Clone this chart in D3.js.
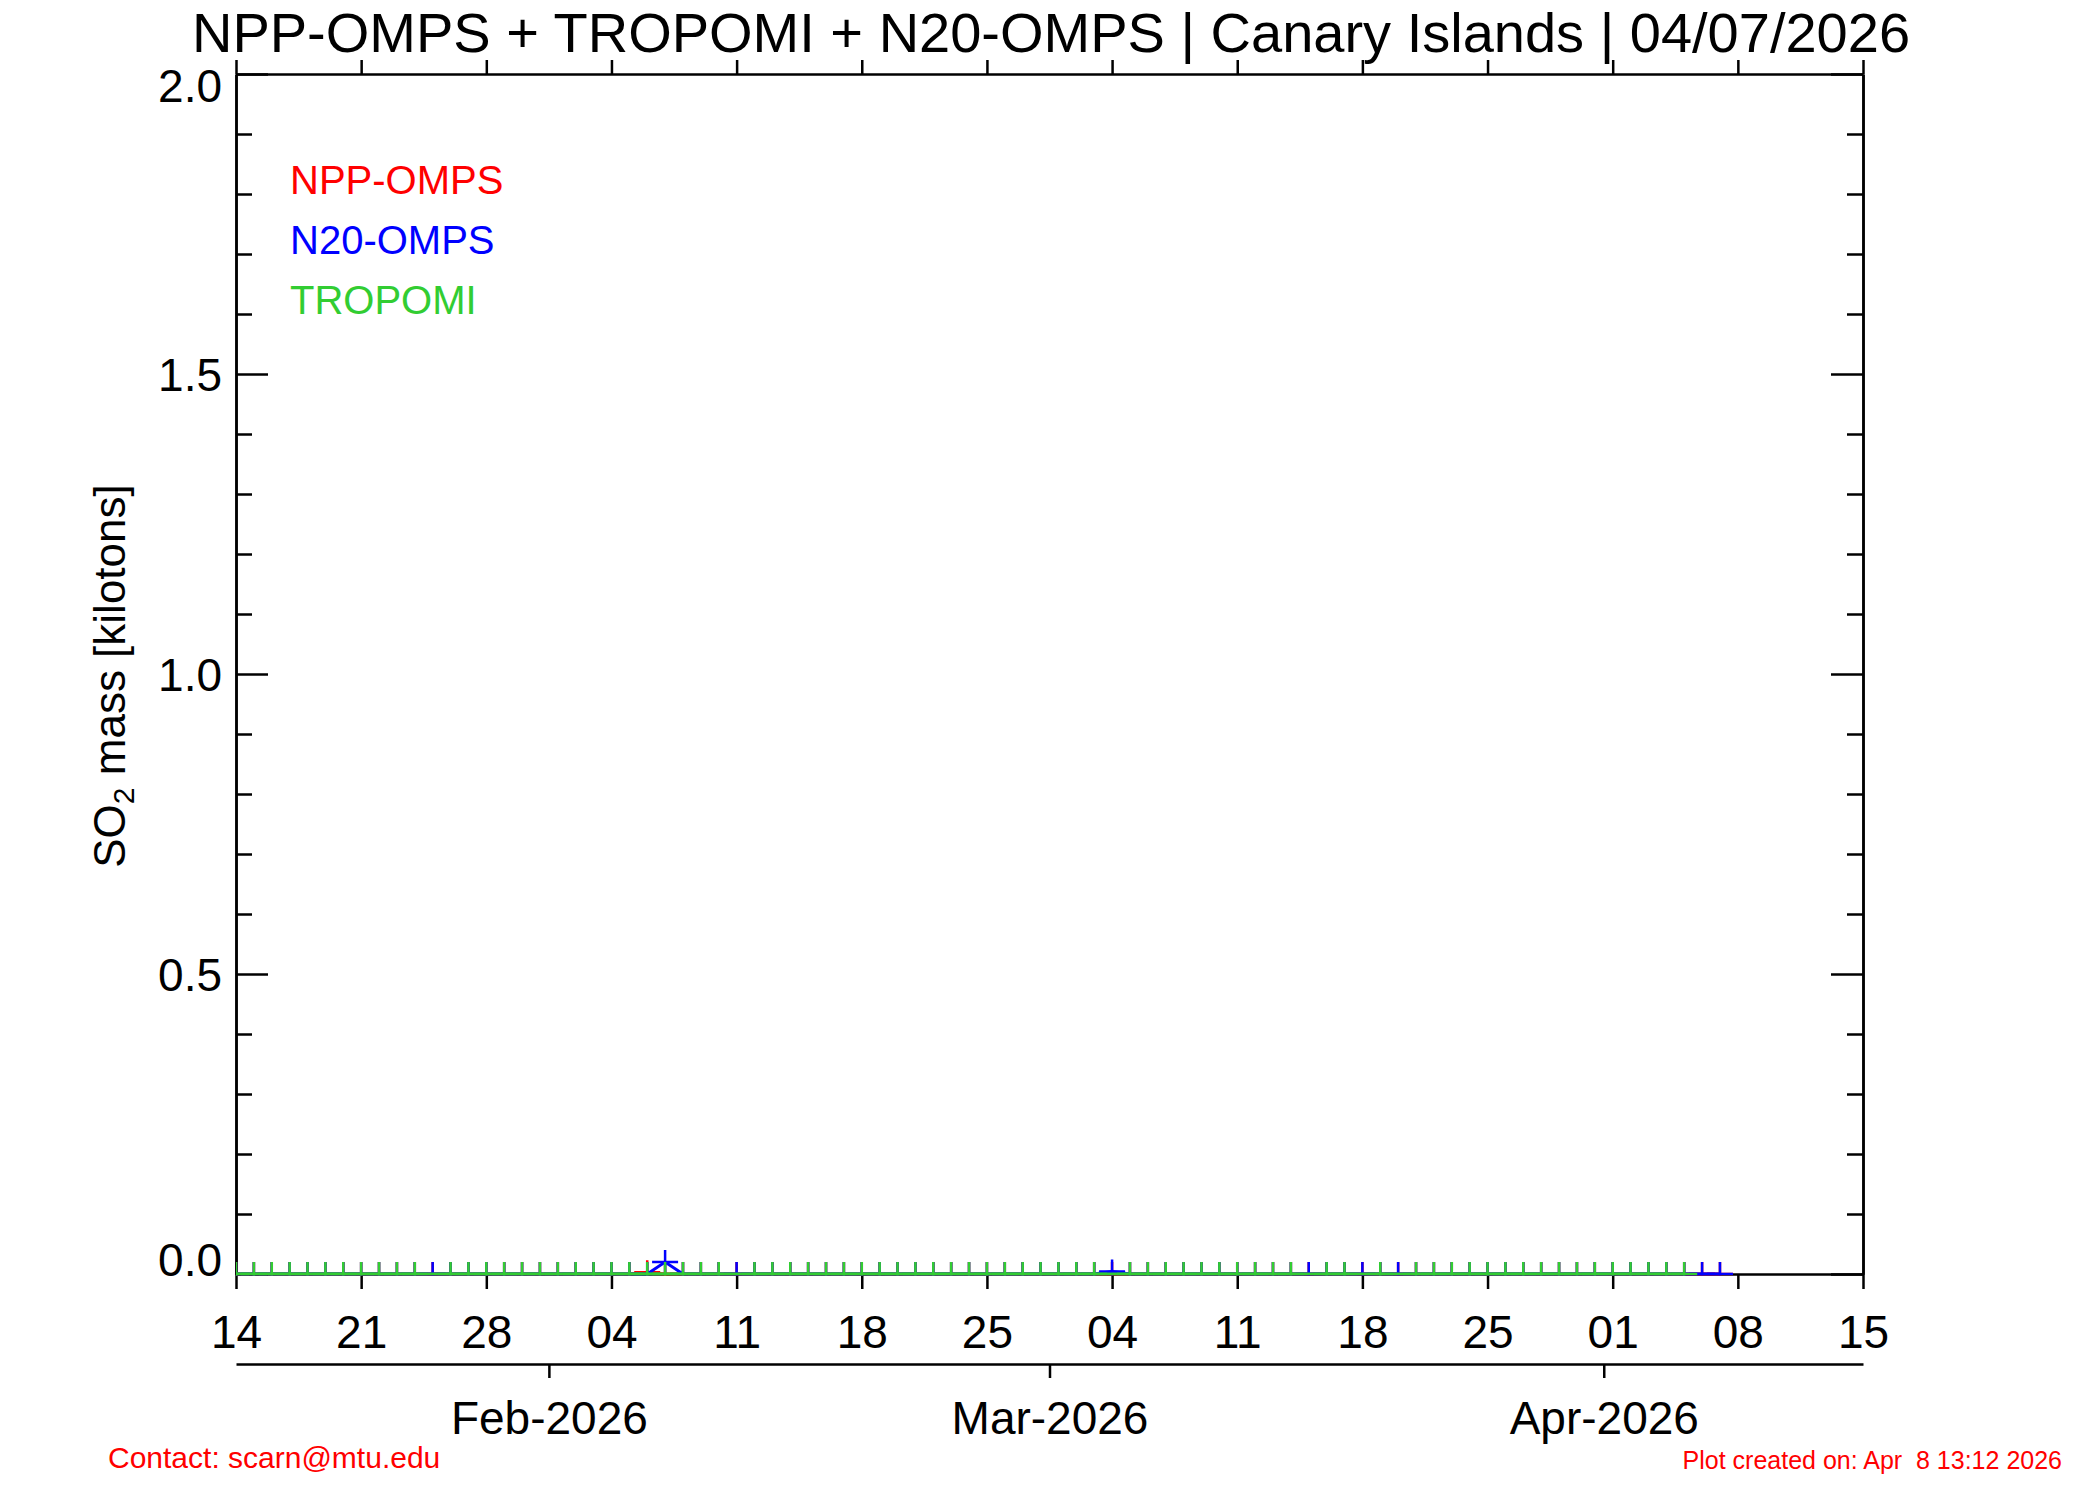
<!DOCTYPE html>
<head>
<meta charset="utf-8">
<script src="https://d3js.org/d3.v7.min.js"></script>
<style>

body {
  margin: 0;
  background: white;
  font-family: 'Liberation Sans', Arial, sans-serif;
}

.axis path, .axis line {
  stroke: black;
  stroke-width: 2.5;
}

.axis text {
  fill: black;
}

.series_line {
  fill: none;
  stroke-width: 3;
}

.marker {
  fill: none;
  stroke-width: 2.5;
}

</style>
</head>

<body>
  <div id="plotContainer"></div>
<script>

// observation days (UTC)
var dates = [
  "2026-01-14","2026-01-15","2026-01-16","2026-01-17","2026-01-18","2026-01-19","2026-01-20",
  "2026-01-21","2026-01-22","2026-01-23","2026-01-24","2026-01-25","2026-01-26","2026-01-27",
  "2026-01-28","2026-01-29","2026-01-30","2026-01-31",
  "2026-02-01","2026-02-02","2026-02-03","2026-02-04","2026-02-05","2026-02-06","2026-02-07",
  "2026-02-08","2026-02-09","2026-02-10","2026-02-11","2026-02-12","2026-02-13","2026-02-14",
  "2026-02-15","2026-02-16","2026-02-17","2026-02-18","2026-02-19","2026-02-20","2026-02-21",
  "2026-02-22","2026-02-23","2026-02-24","2026-02-25","2026-02-26","2026-02-27","2026-02-28",
  "2026-03-01","2026-03-02","2026-03-03","2026-03-04","2026-03-05","2026-03-06","2026-03-07",
  "2026-03-08","2026-03-09","2026-03-10","2026-03-11","2026-03-12","2026-03-13","2026-03-14",
  "2026-03-15","2026-03-16","2026-03-17","2026-03-18","2026-03-19","2026-03-20","2026-03-21",
  "2026-03-22","2026-03-23","2026-03-24","2026-03-25","2026-03-26","2026-03-27","2026-03-28",
  "2026-03-29","2026-03-30","2026-03-31",
  "2026-04-01","2026-04-02","2026-04-03","2026-04-04","2026-04-05","2026-04-06","2026-04-07"
];

// SO2 mass, kilotons (null = no retrieval that day)
var npp_omps = [
  0,0,0,0,0,0,0, 0,0,0,0,0,0,0, 0,0,0,0,
  0,0,0,0,0,0.003,0, 0,0,0,0,0,0,0, 0,0,0,0,0,0,0, 0,0,0,0,0,0,0,
  0,0,0,0,0,0,0, 0,0,0,0,0,0,0, 0,0,0,0,0,0,0, 0,0,0,0,0,0,0, 0,0,0,
  0,0,0,0,0,0,0
];

var n20_omps = [
  0,0,0,0,0,0,0, 0,0,0,0,0,0,0, 0,0,0,0,
  0,0,0,0,0,0,0.02, 0,0,0,0,0,0,0, 0,0,0,0,0,0,0, 0,0,0,0,0,0,0,
  0,0,0,0.004,0,0,0, 0,0,0,0,0,0,0, 0,0,0,0,0,0,0, 0,0,0,0,0,0,0, 0,0,0,
  0,0,0,0,0,0,0
];

var tropomi = [
  0,0,0,0,0,0,0, 0,0,0,0,null,0,0, 0,0,0,0,
  0,0,0,0,0,0,0, 0,0,0,null,0,0,0, 0,0,0,0,0,0,0, 0,0,0,0,0,0,0,
  0,0,0,null,0,0,0, 0,0,0,0,0,0,0, null,0,0,null,0,null,0, 0,0,0,0,0,0,0, 0,0,0,
  0,0,0,0,0,null,null
];

var series_names = ["NPP-OMPS", "N20-OMPS", "TROPOMI"];
var series_colors = ["#ff0000", "#0000ff", "#32cd32"];

var week_ticks = ["2026-01-14","2026-01-21","2026-01-28","2026-02-04","2026-02-11","2026-02-18","2026-02-25",
                  "2026-03-04","2026-03-11","2026-03-18","2026-03-25","2026-04-01","2026-04-08","2026-04-15"];
var week_labels = ["14","21","28","04","11","18","25","04","11","18","25","01","08","15"];

var month_ticks = ["2026-01-31T12:00Z","2026-02-28T12:00Z","2026-03-31T12:00Z"];
var month_labels = ["Feb-2026","Mar-2026","Apr-2026"];

var y_major = [0, 0.5, 1.0, 1.5, 2.0];
var y_minor = [0.1, 0.2, 0.3, 0.4, 0.6, 0.7, 0.8, 0.9, 1.1, 1.2, 1.3, 1.4, 1.6, 1.7, 1.8, 1.9];

var plot = {left: 236, right: 1863, top: 74, bottom: 1274};

var svg = d3.select("#plotContainer")
    .append("svg")
    .attr("width", 2100)
    .attr("height", 1500)
    .attr("font-family", "'Liberation Sans', Arial, sans-serif");

var x = d3.scaleUtc()
    .domain([new Date("2026-01-14"), new Date("2026-04-15")])
    .range([plot.left, plot.right]);

var y = d3.scaleLinear()
    .domain([0, 2])
    .range([plot.bottom, plot.top]);

// d3 axis sets its own font attrs, so this runs after the axis call
function axisStyle(g) {
  g.attr("class", "axis")
   .attr("font-family", "'Liberation Sans', Arial, sans-serif")
   .attr("font-size", 46);
}

// bottom axis with day labels
var gx = svg.append("g")
    .attr("transform", "translate(0," + plot.bottom + ")")
    .call(d3.axisBottom(x)
        .tickValues(week_ticks.map(function(d) { return new Date(d); }))
        .tickSize(15)
        .tickSizeOuter(0)
        .tickFormat(function(d, i) { return week_labels[i]; }))
    .call(axisStyle);
gx.selectAll("text").attr("y", 74).attr("dy", null);

// top axis, ticks only
svg.append("g")
    .attr("transform", "translate(0," + plot.top + ")")
    .call(d3.axisTop(x)
        .tickValues(week_ticks.map(function(d) { return new Date(d); }))
        .tickSize(14)
        .tickSizeOuter(0)
        .tickFormat(""))
    .call(axisStyle);

// month axis below
var gm = svg.append("g")
    .attr("transform", "translate(0,1364)")
    .call(d3.axisBottom(x)
        .tickValues(month_ticks.map(function(d) { return new Date(d); }))
        .tickSize(14)
        .tickSizeOuter(0)
        .tickFormat(function(d, i) { return month_labels[i]; }))
    .call(axisStyle);
gm.selectAll("text").attr("y", 70).attr("dy", null);

// left axis
var gy = svg.append("g")
    .attr("transform", "translate(" + plot.left + ",0)")
    .call(d3.axisLeft(y)
        .tickValues(y_major)
        .tickSize(-32)
        .tickSizeOuter(0)
        .tickPadding(14)
        .tickFormat(d3.format(".1f")))
    .call(axisStyle);
gy.selectAll("text")
    .attr("dy", null)
    .attr("y", function(d) { return d == 0 ? 1.5 : (d == 2 ? 27 : 16.5); });

svg.append("g")
    .attr("transform", "translate(" + plot.left + ",0)")
    .call(d3.axisLeft(y).tickValues(y_minor).tickSize(-16).tickSizeOuter(0).tickFormat(""))
    .call(axisStyle);

// right axis
svg.append("g")
    .attr("transform", "translate(" + plot.right + ",0)")
    .call(d3.axisRight(y).tickValues(y_major).tickSize(-32).tickSizeOuter(0).tickFormat(""))
    .call(axisStyle);

svg.append("g")
    .attr("transform", "translate(" + plot.right + ",0)")
    .call(d3.axisRight(y).tickValues(y_minor).tickSize(-16).tickSizeOuter(0).tickFormat(""))
    .call(axisStyle);

// data
svg.append("clipPath")
    .attr("id", "plotClip")
  .append("rect")
    .attr("x", plot.left)
    .attr("y", plot.top)
    .attr("width", plot.right - plot.left)
    .attr("height", plot.bottom - plot.top + 1.5);

var plot_content = svg.append("g")
    .attr("clip-path", "url(#plotClip)")
    .attr("id", "plot_content");

var all_series = [npp_omps, n20_omps, tropomi];

all_series.forEach(function(values, s) {

  var pts = dates.map(function(d, i) { return {date: new Date(d), value: values[i]}; });

  var series_line = d3.line()
      .x(function(d) { return x(d.date); })
      .y(function(d) { return y(d.value); });

  var kept = pts.filter(function(d) { return d.value != null; });

  plot_content.append("path")
      .datum(kept)
      .attr("class", "series_line")
      .attr("stroke", series_colors[s])
      .attr("d", series_line);

  plot_content.selectAll(".marker_" + s)
      .data(kept)
      .enter()
      .append("path")
      .attr("class", "marker marker_" + s)
      .attr("stroke", series_colors[s])
      .attr("transform", function(d) { return "translate(" + x(d.date) + "," + y(d.value) + ")"; })
      .attr("d", "M-13,0H13M0,-12V12");
});

// legend
series_names.forEach(function(name, i) {
  svg.append("text")
      .attr("x", 290)
      .attr("y", 194 + i * 60)
      .attr("font-size", 40)
      .attr("fill", series_colors[i])
      .text(name);
});

// titles
svg.append("text")
    .attr("x", 1051)
    .attr("y", 52)
    .attr("text-anchor", "middle")
    .attr("font-size", 56)
    .text("NPP-OMPS + TROPOMI + N20-OMPS | Canary Islands | 04/07/2026");

var ytitle = svg.append("text")
    .attr("transform", "translate(125,676) rotate(-90)")
    .attr("text-anchor", "middle")
    .attr("font-size", 44);
ytitle.append("tspan").text("SO");
ytitle.append("tspan").attr("font-size", 30).attr("dy", 9).text("2");
ytitle.append("tspan").attr("dy", -9).text(" mass [kilotons]");

svg.append("text")
    .attr("x", 108)
    .attr("y", 1468)
    .attr("font-size", 30)
    .attr("fill", "#ff0000")
    .text("Contact: scarn@mtu.edu");

svg.append("text")
    .attr("x", 2062)
    .attr("y", 1469)
    .attr("text-anchor", "end")
    .attr("font-size", 25)
    .attr("fill", "#ff0000")
    .style("white-space", "pre")
    .text("Plot created on: Apr  8 13:12 2026");

</script>
</body>
